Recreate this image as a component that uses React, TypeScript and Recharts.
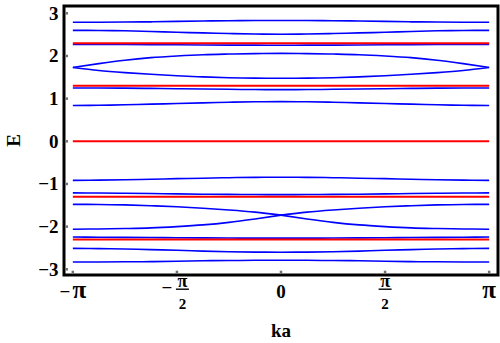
import { ComposedChart, Line, XAxis, YAxis, ReferenceLine, ReferenceArea } from "recharts"

// sample points in ka, from -π to π in steps of π/8
const kValues = [
  -3.1416, -2.7489, -2.3562, -1.9635, -1.5708, -1.1781, -0.7854, -0.3927, 0,
  0.3927, 0.7854, 1.1781, 1.5708, 1.9635, 2.3562, 2.7489, 3.1416,
]

// blue bands
const band1 = [2.79, 2.79, 2.795, 2.8, 2.81, 2.82, 2.825, 2.83, 2.83, 2.83, 2.825, 2.82, 2.81, 2.8, 2.795, 2.79, 2.79]
const band2 = [2.6, 2.597, 2.59, 2.575, 2.555, 2.54, 2.525, 2.515, 2.51, 2.515, 2.525, 2.54, 2.555, 2.575, 2.59, 2.597, 2.6]
const band3 = [2.27, 2.27, 2.268, 2.265, 2.262, 2.258, 2.255, 2.253, 2.252, 2.253, 2.255, 2.258, 2.262, 2.265, 2.268, 2.27, 2.27]
const band4 = [1.73, 1.82, 1.9, 1.96, 2.0, 2.03, 2.045, 2.055, 2.06, 2.055, 2.045, 2.03, 2.0, 1.96, 1.9, 1.82, 1.73]
const band5 = [1.73, 1.66, 1.61, 1.57, 1.535, 1.51, 1.49, 1.48, 1.478, 1.48, 1.49, 1.51, 1.535, 1.57, 1.61, 1.66, 1.73]
const band6 = [1.25, 1.248, 1.245, 1.24, 1.232, 1.225, 1.218, 1.213, 1.21, 1.213, 1.218, 1.225, 1.232, 1.24, 1.245, 1.248, 1.25]
const band7 = [0.84, 0.845, 0.855, 0.87, 0.885, 0.9, 0.915, 0.925, 0.93, 0.925, 0.915, 0.9, 0.885, 0.87, 0.855, 0.845, 0.84]
const band8 = [-0.915, -0.91, -0.9, -0.89, -0.875, -0.865, -0.853, -0.845, -0.842, -0.845, -0.853, -0.865, -0.875, -0.89, -0.9, -0.91, -0.915]
const band9 = [-1.21, -1.213, -1.218, -1.225, -1.232, -1.24, -1.245, -1.248, -1.25, -1.248, -1.245, -1.24, -1.232, -1.225, -1.218, -1.213, -1.21]
const band10 = [-1.478, -1.48, -1.49, -1.51, -1.535, -1.57, -1.61, -1.66, -1.73, -1.66, -1.61, -1.57, -1.535, -1.51, -1.49, -1.48, -1.478]
const band11 = [-2.06, -2.055, -2.045, -2.03, -2.0, -1.96, -1.9, -1.82, -1.73, -1.82, -1.9, -1.96, -2.0, -2.03, -2.045, -2.055, -2.06]
const band12 = [-2.245, -2.248, -2.252, -2.256, -2.26, -2.264, -2.267, -2.27, -2.27, -2.27, -2.267, -2.264, -2.26, -2.256, -2.252, -2.248, -2.245]
const band13 = [-2.51, -2.515, -2.525, -2.54, -2.555, -2.575, -2.59, -2.597, -2.6, -2.597, -2.59, -2.575, -2.555, -2.54, -2.525, -2.515, -2.51]
const band14 = [-2.83, -2.83, -2.825, -2.82, -2.81, -2.8, -2.795, -2.79, -2.79, -2.79, -2.795, -2.8, -2.81, -2.82, -2.825, -2.83, -2.83]

// red flat levels
const flatLevels = [2.3, 1.3, 0, -1.3, -2.3]

const yTicks = [-3, -2, -1, 0, 1, 2, 3]
const xTicks = [-Math.PI, -Math.PI / 2, 0, Math.PI / 2, Math.PI]
const xTickLabels = ["−π", "−π/2", "0", "π/2", "π"]

const xDomain = [-3.275, 3.275]
const yDomain = [-3.134, 3.171]

const smoothBands = [band1, band2, band3, band4, band5, band6, band7, band8, band9, band12, band13, band14]
// these two cross at ka = 0, so each is drawn as two halves
const crossingBands = [band10, band11]

const rows = kValues.map((k, i) => {
  const row: Record<string, number | null> = { k }
  smoothBands.forEach((b, j) => {
    row[`s${j}`] = b[i]
  })
  crossingBands.forEach((b, j) => {
    row[`cl${j}`] = k <= 0 ? b[i] : null
    row[`cr${j}`] = k >= 0 ? b[i] : null
  })
  return row
})

const FONT = "'Liberation Serif', 'Times New Roman', serif"
const BLUE = "#0000ff"
const RED = "#ff0000"
const MARK = "#707070"

function YTick(props: any) {
  const { x, y, payload } = props
  const v = payload.value as number
  const label = v < 0 ? `−${Math.abs(v)}` : `${v}`
  return (
    <g>
      <rect x={x + 1.5} y={y - 1.25} width={2.5} height={2.5} fill={MARK} />
      <text x={x - 5.5} y={y + 6.5} textAnchor="end" fontFamily={FONT} fontWeight="bold" fontSize={19} fill="#000">
        {label}
      </text>
    </g>
  )
}

function XTick(props: any) {
  const { x, y, index } = props
  const label = xTickLabels[index]
  const mark = <rect x={x - 1.25} y={y - 4.3} width={2.5} height={2.8} fill={MARK} />
  if (label.includes("/")) {
    const neg = label.startsWith("−")
    const cx = neg ? x + 5.5 : x
    return (
      <g>
        {mark}
        {neg && (
          <text x={x - 10} y={y + 19} textAnchor="middle" fontFamily={FONT} fontWeight="bold" fontSize={19} fill="#000">
            −
          </text>
        )}
        <text x={cx} y={y + 12} textAnchor="middle" fontFamily={FONT} fontWeight="bold" fontSize={18} fill="#000">
          π
        </text>
        <line x1={cx - 6.5} x2={cx + 6.5} y1={y + 14.2} y2={y + 14.2} stroke="#000" strokeWidth={1.4} />
        <text x={cx} y={y + 33.5} textAnchor="middle" fontFamily={FONT} fontWeight="bold" fontSize={15} fill="#000">
          2
        </text>
      </g>
    )
  }
  if (label.includes("π")) {
    const neg = label.startsWith("−")
    return (
      <g>
        {mark}
        <text x={x} y={y + 23} textAnchor="middle" fontFamily={FONT} fontWeight="bold" fill="#000">
          {neg && <tspan fontSize={19}>−</tspan>}
          <tspan fontSize={25} dx={neg ? 2 : 0}>
            π
          </tspan>
        </text>
      </g>
    )
  }
  return (
    <g>
      {mark}
      <text x={x} y={y + 23} textAnchor="middle" fontFamily={FONT} fontWeight="bold" fontSize={19} fill="#000">
        {label}
      </text>
    </g>
  )
}

export default function App() {
  return (
    <div style={{ position: "absolute", left: 0, top: 0, width: 500, height: 343, background: "#fff" }}>
      <ComposedChart width={500} height={343} data={rows} margin={{ top: 6, right: 2, left: 0, bottom: 18 }}>
        <XAxis
          dataKey="k"
          type="number"
          domain={xDomain}
          ticks={xTicks}
          tick={<XTick />}
          tickLine={false}
          axisLine={false}
          tickSize={0}
          tickMargin={0}
          height={50}
          interval={0}
          allowDataOverflow
          label={{
            position: "bottom",
            content: (p: any) => (
              <text
                x={p.viewBox.x + p.viewBox.width / 2}
                y={p.viewBox.y + 62}
                textAnchor="middle"
                fontFamily={FONT}
                fontWeight="bold"
                fontSize={19}
                fill="#000"
              >
                ka
              </text>
            ),
          }}
        />
        <YAxis
          type="number"
          domain={yDomain}
          ticks={yTicks}
          tick={<YTick />}
          tickLine={false}
          axisLine={false}
          tickSize={0}
          tickMargin={0}
          width={64}
          interval={0}
          allowDataOverflow
          label={{
            position: "left",
            content: (p: any) => {
              const cy = p.viewBox.y + p.viewBox.height / 2
              return (
                <text
                  x={19.5}
                  y={cy}
                  transform={`rotate(-90, 19.5, ${cy})`}
                  textAnchor="middle"
                  fontFamily={FONT}
                  fontWeight="bold"
                  fontSize={19}
                  fill="#000"
                >
                  E
                </text>
              )
            },
          }}
        />
        {smoothBands.map((_, j) => (
          <Line
            key={`s${j}`}
            dataKey={`s${j}`}
            type="monotone"
            stroke={BLUE}
            strokeWidth={1.6}
            dot={false}
            isAnimationActive={false}
          />
        ))}
        {crossingBands.map((_, j) => [
          <Line
            key={`cl${j}`}
            dataKey={`cl${j}`}
            type="monotone"
            stroke={BLUE}
            strokeWidth={1.6}
            dot={false}
            isAnimationActive={false}
          />,
          <Line
            key={`cr${j}`}
            dataKey={`cr${j}`}
            type="monotone"
            stroke={BLUE}
            strokeWidth={1.6}
            dot={false}
            isAnimationActive={false}
          />,
        ])}
        {flatLevels.map((e) => (
          <ReferenceLine
            key={e}
            segment={[
              { x: kValues[0], y: e },
              { x: kValues[kValues.length - 1], y: e },
            ]}
            stroke={RED}
            strokeWidth={2}
          />
        ))}
        <ReferenceArea
          x1={xDomain[0]}
          x2={xDomain[1]}
          y1={yDomain[0]}
          y2={yDomain[1]}
          fill="none"
          fillOpacity={0}
          stroke="#000"
          strokeWidth={3}
          ifOverflow="visible"
        />
      </ComposedChart>
    </div>
  )
}
